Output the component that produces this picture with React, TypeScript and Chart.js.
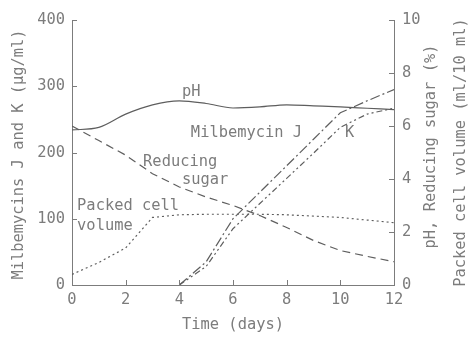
import React, { useEffect, useRef } from 'react';
import { Chart, registerables } from 'chart.js';

Chart.register(...registerables);

// ---- data ----
const days = [0, 1, 2, 3, 4, 5, 6, 7, 8, 9, 10, 11, 12];
const phValues = [5.85, 5.95, 6.45, 6.8, 6.95, 6.85, 6.68, 6.72, 6.8, 6.76, 6.72, 6.67, 6.62];
const reducingSugar = [6.0, 5.45, 4.9, 4.2, 3.7, 3.32, 3.0, 2.62, 2.17, 1.68, 1.3, 1.08, 0.88];
const packedCellVolume = [0.4, 0.85, 1.4, 2.55, 2.65, 2.67, 2.67, 2.67, 2.65, 2.6, 2.55, 2.45, 2.35];
const milbemycinJ = [null, null, null, null, 0, 35, 100, 140, 180, 220, 260, 278, 295];
const milbemycinK = [null, null, null, null, 0, 28, 85, 123, 161, 199, 238, 258, 267];

const xTicks = [0, 2, 4, 6, 8, 10, 12];
const leftTicks = [0, 100, 200, 300, 400];
const rightTicks = [0, 2, 4, 6, 8, 10];

const xTitle = 'Time (days)';
const leftTitle = 'Milbemycins J and K (\u03bcg/ml)';
const rightTitle1 = 'pH, Reducing sugar (%)';
const rightTitle2 = 'Packed cell volume (ml/10 ml)';

// in-plot labels (x in days, y on right 0-10 scale)
const labelTexts = ['pH', 'Milbemycin J', 'K', 'Reducing', 'sugar', 'Packed cell', 'volume'];
const labelX = [4.1, 4.43, 10.17, 2.65, 4.1, 0.19, 0.19];
const labelY = [7.3, 5.73, 5.73, 4.64, 3.96, 2.98, 2.23];

const FONT = '"DejaVu Sans Mono", monospace';
const FS = 15.4;
const INK = '#7c7c7c';
const LINE = '#5e5e5e';

const pts = (arr: (number | null)[]) => days.map((d, i) => ({ x: d, y: arr[i] }));

const decor = {
  id: 'decor',
  afterDraw(chart: any) {
    const { ctx, chartArea: a, scales } = chart;
    const x = scales.x, yl = scales.yL, yr = scales.yR;
    ctx.save();
    ctx.strokeStyle = INK;
    ctx.lineWidth = 1;
    ctx.beginPath();
    xTicks.forEach((v) => {
      const px = Math.round(x.getPixelForValue(v)) + 0.5;
      ctx.moveTo(px, a.bottom);
      ctx.lineTo(px, a.bottom - 5);
    });
    leftTicks.forEach((v) => {
      const py = Math.round(yl.getPixelForValue(v)) + 0.5;
      ctx.moveTo(a.left, py);
      ctx.lineTo(a.left + 5, py);
    });
    rightTicks.forEach((v) => {
      const py = Math.round(yr.getPixelForValue(v)) + 0.5;
      ctx.moveTo(a.right, py);
      ctx.lineTo(a.right - 5, py);
    });
    ctx.stroke();

    ctx.fillStyle = INK;
    ctx.font = `${FS}px ${FONT}`;
    ctx.textBaseline = 'middle';
    ctx.textAlign = 'left';
    labelTexts.forEach((t, i) => {
      ctx.fillText(t, x.getPixelForValue(labelX[i]), yr.getPixelForValue(labelY[i]));
    });

    ctx.textAlign = 'center';
    const midY = (a.top + a.bottom) / 2;
    ctx.fillText(xTitle, (a.left + a.right) / 2, a.bottom + 40);

    ctx.save();
    ctx.translate(19, midY + 2);
    ctx.rotate(-Math.PI / 2);
    ctx.fillText(leftTitle, 0, 0);
    ctx.restore();

    ctx.save();
    ctx.translate(431, midY - 6);
    ctx.rotate(-Math.PI / 2);
    ctx.fillText(rightTitle1, 0, 0);
    ctx.restore();

    ctx.save();
    ctx.translate(461, midY);
    ctx.rotate(-Math.PI / 2);
    ctx.fillText(rightTitle2, 0, 0);
    ctx.restore();

    ctx.restore();
  },
};

export default function App() {
  const ref = useRef<HTMLCanvasElement>(null);
  useEffect(() => {
    if (!ref.current) return;
    const common = { pointRadius: 0, borderWidth: 1.2, borderColor: LINE, fill: false };
    const noGrid = { display: false, drawTicks: false, tickLength: 0 };
    const chart = new Chart(ref.current, {
      type: 'line',
      data: {
        datasets: [
          { ...common, label: 'pH', data: pts(phValues), yAxisID: 'yR', cubicInterpolationMode: 'monotone' },
          { ...common, label: 'Reducing sugar', data: pts(reducingSugar), yAxisID: 'yR', borderDash: [8, 5] },
          { ...common, label: 'Packed cell volume', data: pts(packedCellVolume), yAxisID: 'yR', borderDash: [2, 3] },
          { ...common, label: 'Milbemycin J', data: pts(milbemycinJ), yAxisID: 'yL', borderDash: [10, 3, 2, 3], spanGaps: false },
          { ...common, label: 'Milbemycin K', data: pts(milbemycinK), yAxisID: 'yL', borderDash: [6, 3, 2, 3, 2, 3], spanGaps: false },
        ] as any,
      },
      options: {
        responsive: false,
        animation: false,
        devicePixelRatio: 1,
        layout: { padding: { top: 20, left: 0, right: 0, bottom: 0 } },
        plugins: { legend: { display: false }, tooltip: { enabled: false } },
        scales: {
          x: {
            type: 'linear',
            min: 0,
            max: 12,
            grid: noGrid,
            border: { display: true, color: INK, width: 1 },
            ticks: { stepSize: 2, color: INK, padding: 6, font: { family: FONT, size: FS }, maxRotation: 0 },
            afterFit: (s: any) => { s.height = 54; },
          },
          yL: {
            type: 'linear',
            position: 'left',
            min: 0,
            max: 400,
            grid: noGrid,
            border: { display: true, color: INK, width: 1 },
            ticks: { stepSize: 100, color: INK, padding: 7, font: { family: FONT, size: FS } },
            afterFit: (s: any) => { s.width = 72; },
          },
          yR: {
            type: 'linear',
            position: 'right',
            min: 0,
            max: 10,
            grid: noGrid,
            border: { display: true, color: INK, width: 1 },
            ticks: { stepSize: 2, color: INK, padding: 8, font: { family: FONT, size: FS } },
            afterFit: (s: any) => { s.width = 75; },
          },
        },
      } as any,
      plugins: [decor],
    });
    return () => chart.destroy();
  }, []);
  return (
    <div style={{ position: 'absolute', left: 0, top: 0, width: 469, height: 339, background: '#fff' }}>
      <canvas ref={ref} width={469} height={339} />
    </div>
  );
}
